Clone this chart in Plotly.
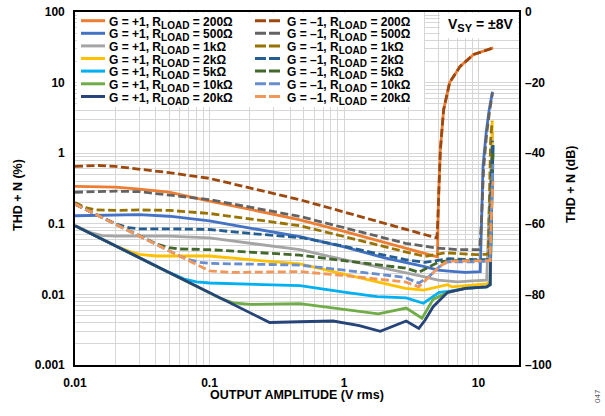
import plotly.graph_objects as go

# ---------------- data ----------------
x_p200 = [0.01, 0.015, 0.02, 0.03, 0.05, 0.1, 0.2, 0.47, 1, 2, 4, 4.95, 5.0, 5.05, 5.2, 5.5, 6.1, 7.3, 9.2, 12.85]
y_p200 = [0.34, 0.335, 0.33, 0.31, 0.28, 0.21, 0.16, 0.114, 0.078, 0.055, 0.038, 0.034, 0.1, 0.25, 1.1, 4.1, 10, 17, 25, 31]

x_m200 = [0.01, 0.015, 0.02, 0.03, 0.05, 0.1, 0.2, 0.47, 1, 2, 4, 4.9, 4.97, 5.05, 5.2, 5.5, 6.1, 7.3, 9.2, 12.85]
y_m200 = [0.65, 0.67, 0.65, 0.60, 0.53, 0.44, 0.32, 0.219, 0.147, 0.102, 0.070, 0.063, 0.1, 0.25, 1.1, 4.1, 10, 17, 25, 31]

x_p500 = [0.01, 0.02, 0.03, 0.05, 0.1, 0.2, 0.47, 1, 2, 3.9, 5, 6, 8, 10.3, 10.5, 10.8, 11.4, 12, 12.7]
y_p500 = [0.13, 0.135, 0.135, 0.128, 0.11, 0.087, 0.066, 0.047, 0.033, 0.025, 0.022, 0.0214, 0.0205, 0.021, 0.1, 0.65, 1.95, 4.1, 7.4]

x_m500 = [0.01, 0.02, 0.03, 0.05, 0.1, 0.2, 0.47, 1, 2, 2.86, 4.8, 7, 10.2, 10.5, 10.9, 11.5, 12.1, 12.7]
y_m500 = [0.28, 0.29, 0.285, 0.255, 0.22, 0.172, 0.127, 0.088, 0.062, 0.053, 0.0455, 0.043, 0.043, 0.1, 0.6, 1.9, 4.0, 7.2]

x_p1k = [0.01, 0.013, 0.016, 0.02, 0.03, 0.05, 0.1, 0.2, 0.47, 1, 2, 3.9, 5, 7, 9, 11.5, 11.9, 12.2, 12.5, 12.7]
y_p1k = [0.094, 0.075, 0.068, 0.067, 0.067, 0.067, 0.063, 0.053, 0.043, 0.031, 0.0236, 0.0179, 0.0159, 0.015, 0.0155, 0.0159, 0.1, 0.4, 1.0, 2.0]

x_m1k = [0.01, 0.012, 0.014, 0.02, 0.03, 0.05, 0.1, 0.2, 0.47, 1, 2, 2.86, 4, 5.6, 9.8, 11.8, 11.95, 12.1, 12.3, 12.6]
y_m1k = [0.20, 0.17, 0.158, 0.155, 0.157, 0.155, 0.14, 0.117, 0.094, 0.066, 0.047, 0.040, 0.0345, 0.0388, 0.0366, 0.037, 0.1, 0.5, 1.5, 2.8]

x_p2k = [0.01, 0.015, 0.02, 0.025, 0.03, 0.04, 0.05, 0.1, 0.2, 0.47, 1, 2, 2.86, 3.9, 5.1, 5.9, 6.3, 9, 11.5, 12.2, 12.35, 12.5, 12.65]
y_p2k = [0.094, 0.064, 0.049, 0.041, 0.037, 0.035, 0.035, 0.035, 0.031, 0.027, 0.0194, 0.0143, 0.0122, 0.0115, 0.0128, 0.0137, 0.0128, 0.0135, 0.0141, 0.015, 0.1, 0.8, 2.9]

x_m2k = [0.01, 0.015, 0.02, 0.025, 0.03, 0.05, 0.1, 0.2, 0.5, 1, 2, 2.86, 4, 6, 10, 12.1, 12.3, 12.5, 12.7]
y_m2k = [0.19, 0.13, 0.1, 0.088, 0.085, 0.085, 0.083, 0.073, 0.063, 0.048, 0.036, 0.031, 0.0285, 0.032, 0.031, 0.031, 0.2, 0.8, 1.5]

x_p5k = [0.01, 0.015, 0.02, 0.03, 0.05, 0.065, 0.08, 0.1, 0.2, 0.47, 1, 1.76, 2.9, 3.9, 5.1, 6, 8, 11.5, 12.2, 12.4, 12.6, 12.8]
y_p5k = [0.094, 0.064, 0.049, 0.033, 0.0205, 0.0165, 0.015, 0.0145, 0.014, 0.0133, 0.0108, 0.0093, 0.0089, 0.0075, 0.0107, 0.011, 0.0122, 0.0128, 0.0137, 0.1, 0.5, 1.3]

x_m5k = [0.01, 0.015, 0.02, 0.03, 0.04, 0.05, 0.06, 0.1, 0.2, 0.47, 1, 2, 2.86, 3.6, 5, 6, 10, 12.2, 12.4, 12.6, 12.8]
y_m5k = [0.19, 0.13, 0.098, 0.067, 0.052, 0.046, 0.044, 0.043, 0.04, 0.036, 0.030, 0.026, 0.0236, 0.0206, 0.0285, 0.03, 0.03, 0.031, 0.15, 0.5, 1.0]

x_p10k = [0.01, 0.015, 0.02, 0.03, 0.05, 0.1, 0.12, 0.15, 0.2, 0.47, 1, 1.8, 2.9, 3.8, 4.6, 5.9, 8, 11.5, 12.2, 12.4, 12.6, 12.8]
y_p10k = [0.094, 0.064, 0.049, 0.033, 0.0205, 0.0105, 0.0088, 0.0076, 0.0072, 0.0074, 0.0062, 0.0053, 0.0064, 0.0046, 0.0085, 0.0107, 0.0122, 0.0128, 0.0137, 0.1, 0.5, 1.3]

x_m10k = [0.01, 0.015, 0.02, 0.03, 0.05, 0.06, 0.07, 0.085, 0.1, 0.2, 0.47, 1, 2, 2.86, 3.6, 4.3, 5.1, 5.9, 10, 12.2, 12.4, 12.6, 12.8]
y_m10k = [0.19, 0.13, 0.098, 0.067, 0.041, 0.035, 0.031, 0.0285, 0.0275, 0.027, 0.026, 0.022, 0.019, 0.0174, 0.0144, 0.018, 0.0245, 0.029, 0.029, 0.03, 0.12, 0.4, 0.7]

x_p20k = [0.01, 0.015, 0.02, 0.03, 0.05, 0.1, 0.15, 0.2, 0.28, 0.47, 0.83, 1.3, 1.86, 2.9, 3.6, 4.0, 4.6, 5.9, 8, 11.5, 12.2, 12.4, 12.6, 12.8]
y_p20k = [0.094, 0.064, 0.049, 0.033, 0.0205, 0.0105, 0.0072, 0.0055, 0.004, 0.0041, 0.0042, 0.0036, 0.003, 0.0042, 0.0033, 0.0043, 0.0067, 0.0107, 0.0122, 0.0128, 0.0137, 0.1, 0.5, 1.3]

x_m20k = [0.01, 0.015, 0.02, 0.03, 0.05, 0.07, 0.1, 0.15, 0.2, 0.47, 1, 2, 2.86, 3.6, 4.3, 5.1, 5.9, 10, 12.2, 12.4, 12.6, 12.8]
y_m20k = [0.19, 0.13, 0.098, 0.067, 0.041, 0.030, 0.0215, 0.0205, 0.0205, 0.021, 0.0185, 0.0163, 0.015, 0.0128, 0.018, 0.0245, 0.0296, 0.0296, 0.03, 0.1, 0.25, 0.4]

loads = ["200Ω", "500Ω", "1kΩ", "2kΩ", "5kΩ", "10kΩ", "20kΩ"]
colors_p = ["#ED7D31", "#4472C4", "#A5A5A5", "#FFC000", "#00B0F0", "#70AD47", "#264478"]
colors_m = ["#9E480E", "#636363", "#997300", "#255E91", "#43682B", "#698ED0", "#F1975A"]
series_p = [(x_p200, y_p200), (x_p500, y_p500), (x_p1k, y_p1k), (x_p2k, y_p2k),
            (x_p5k, y_p5k), (x_p10k, y_p10k), (x_p20k, y_p20k)]
series_m = [(x_m200, y_m200), (x_m500, y_m500), (x_m1k, y_m1k), (x_m2k, y_m2k),
            (x_m5k, y_m5k), (x_m10k, y_m10k), (x_m20k, y_m20k)]

x_ticks = [0.01, 0.1, 1, 10]
x_tick_text = ["0.01", "0.1", "1", "10"]
y_ticks = [0.001, 0.01, 0.1, 1, 10, 100]
y_tick_text = ["0.001", "0.01", "0.1", "1", "10", "100"]
db_ticks = [0, -20, -40, -60, -80, -100]
db_tick_text = ["0", "–20", "–40", "–60", "–80", "–100"]

# ---------------- figure ----------------
FONT = "Liberation Sans, Arial, sans-serif"
W, H = 605, 416
# plot-area edges in window pixels
L, R, T, B = 75, 519, 12, 365


def px_x(p):
    return (p - L) / (R - L)


def px_y(p):
    return (B - p) / (B - T)


DASH = "8px,3.5px"
fig = go.Figure()
for i, (xs, ys) in enumerate(series_p):
    fig.add_trace(go.Scatter(x=xs, y=ys, mode="lines", showlegend=False,
                             name="G = +1, R<sub>LOAD</sub> = " + loads[i],
                             line=dict(color=colors_p[i], width=2.8)))
for i, (xs, ys) in enumerate(series_m):
    fig.add_trace(go.Scatter(x=xs, y=ys, mode="lines", showlegend=False,
                             name="G = –1, R<sub>LOAD</sub> = " + loads[i],
                             line=dict(color=colors_m[i], width=2.8, dash=DASH)))
# secondary (dB) axis carrier
fig.add_trace(go.Scatter(x=[None], y=[None], yaxis="y2", showlegend=False, hoverinfo="skip"))

minor_vals = []
for e in range(-3, 3):
    for k in range(2, 10):
        minor_vals.append(k * 10 ** e)

grid_col = "#D6D6D6"
tickfont = dict(family=FONT, size=12, color="black", weight="bold")

fig.update_layout(
    width=W, height=H,
    margin=dict(l=L, r=W - R, t=T, b=H - B, pad=0, autoexpand=False),
    paper_bgcolor="white", plot_bgcolor="white",
    font=dict(family=FONT, color="black"),
    xaxis=dict(type="log", range=[-2, 1.3010], tickvals=x_ticks, ticktext=x_tick_text,
               showgrid=True, gridcolor=grid_col, gridwidth=1.2,
               minor=dict(tickvals=minor_vals, showgrid=True, gridcolor=grid_col, gridwidth=1.2),
               showline=True, linecolor="black", linewidth=1.6, mirror=True, automargin=False,
               ticks="", tickfont=tickfont, ticklabelstandoff=6, zeroline=False,
               ticklabeloverflow="allow"),
    yaxis=dict(type="log", range=[-3, 2], tickvals=y_ticks, ticktext=y_tick_text,
               showgrid=True, gridcolor=grid_col, gridwidth=1.2,
               minor=dict(tickvals=minor_vals, showgrid=True, gridcolor=grid_col, gridwidth=1.2),
               showline=True, linecolor="black", linewidth=1.6, mirror=True, automargin=False,
               ticks="", tickfont=tickfont, ticklabelstandoff=6, zeroline=False,
               ticklabeloverflow="allow"),
    yaxis2=dict(overlaying="y", side="right", range=[-100, 0], tickvals=db_ticks,
                ticktext=db_tick_text, showgrid=False, zeroline=False, showline=False,
                automargin=False, ticks="", tickfont=tickfont, ticklabelstandoff=5,
                ticklabeloverflow="allow"),
)

SUB = "R<sub><span style='font-size:10px'>LOAD</span></sub>"
shapes = []
annotations = []
# legend box
shapes.append(dict(type="rect", xref="paper", yref="paper", layer="above",
                   x0=px_x(77), x1=px_x(424), y0=px_y(107), y1=px_y(13),
                   fillcolor="white", line=dict(width=0)))
# V_SY box
shapes.append(dict(type="rect", xref="paper", yref="paper", layer="above",
                   x0=px_x(440), x1=px_x(518), y0=px_y(38), y1=px_y(13),
                   fillcolor="white", line=dict(width=0)))
rows_y = [20.7, 33.3, 45.9, 58.5, 71.1, 83.8, 96.5]
for i in range(7):
    yy = px_y(rows_y[i])
    shapes.append(dict(type="line", xref="paper", yref="paper", layer="above",
                       x0=px_x(81), x1=px_x(105), y0=yy, y1=yy,
                       line=dict(color=colors_p[i], width=3)))
    shapes.append(dict(type="line", xref="paper", yref="paper", layer="above",
                       x0=px_x(255), x1=px_x(281), y0=yy, y1=yy,
                       line=dict(color=colors_m[i], width=3, dash="11px,3px")))
    annotations.append(dict(xref="paper", yref="paper", x=px_x(107), y=px_y(rows_y[i] + 2.0),
                            xanchor="left", yanchor="middle", showarrow=False,
                            text="G = +1, " + SUB + " = " + loads[i],
                            font=dict(family=FONT, size=12, color="black", weight="bold")))
    annotations.append(dict(xref="paper", yref="paper", x=px_x(285), y=px_y(rows_y[i] + 2.0),
                            xanchor="left", yanchor="middle", showarrow=False,
                            text="G = –1, " + SUB + " = " + loads[i],
                            font=dict(family=FONT, size=12, color="black", weight="bold")))

annotations.append(dict(xref="paper", yref="paper", x=px_x(480), y=px_y(25),
                        xanchor="center", yanchor="middle", showarrow=False,
                        text="V<sub><span style='font-size:11px'>SY</span></sub> = ±8V",
                        font=dict(family=FONT, size=14, color="black", weight="bold")))
# axis titles
annotations.append(dict(xref="paper", yref="paper", x=px_x(297), y=px_y(395),
                        xanchor="center", yanchor="middle", showarrow=False,
                        text="OUTPUT AMPLITUDE (V rms)",
                        font=dict(family=FONT, size=12.5, color="black", weight="bold")))
annotations.append(dict(xref="paper", yref="paper", x=px_x(18), y=px_y(195),
                        xanchor="center", yanchor="middle", showarrow=False, textangle=-90,
                        text="THD + N (%)",
                        font=dict(family=FONT, size=12.5, color="black", weight="bold")))
annotations.append(dict(xref="paper", yref="paper", x=px_x(571), y=px_y(185),
                        xanchor="center", yanchor="middle", showarrow=False, textangle=-90,
                        text="THD + N (dB)",
                        font=dict(family=FONT, size=12.5, color="black", weight="bold")))
annotations.append(dict(xref="paper", yref="paper", x=px_x(597), y=px_y(396),
                        xanchor="center", yanchor="middle", showarrow=False, textangle=-90,
                        text="047", font=dict(family=FONT, size=8, color="#555555")))

fig.update_layout(shapes=shapes, annotations=annotations)
# remove the browser's default page margin so the figure sits at the window origin
fig.write_html("out.html", config={"displayModeBar": False},
               post_script="document.body.style.margin='0';document.body.style.overflow='hidden';")
